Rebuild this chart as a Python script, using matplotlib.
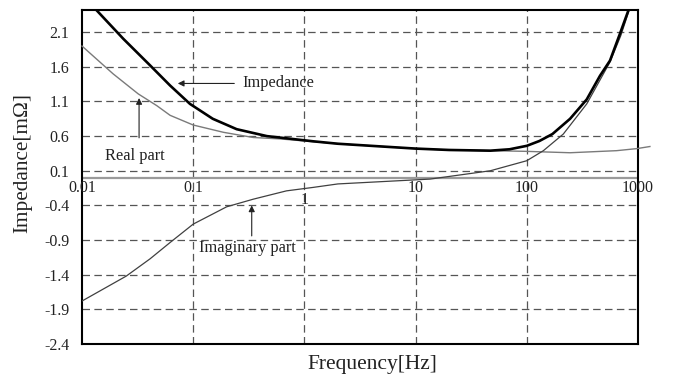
import numpy as np
import matplotlib
matplotlib.use("Agg")
import matplotlib.pyplot as plt

plt.rcParams['font.family'] = ['Liberation Serif', 'DejaVu Serif']

# Impedance magnitude
imp_freq = [0.01, 0.0131, 0.0235, 0.041, 0.062, 0.0935, 0.15, 0.246, 0.46, 1.2, 2, 5, 10, 20,
            47, 70, 100, 130, 170, 245, 346, 455, 560, 689, 818, 900]
imp_val = [2.60, 2.44, 2.005, 1.62, 1.33, 1.065, 0.85, 0.70, 0.60, 0.525, 0.49, 0.45, 0.42,
           0.40, 0.39, 0.41, 0.46, 0.53, 0.63, 0.85, 1.13, 1.47, 1.69, 2.08, 2.41, 2.60]

# Real part
re_freq = [0.01, 0.019, 0.032, 0.047, 0.062, 0.1, 0.187, 0.347, 0.6, 1, 2, 5, 10, 20, 47, 100,
           245, 643, 980, 1280]
re_val = [1.90, 1.50, 1.21, 1.04, 0.90, 0.76, 0.655, 0.58, 0.56, 0.53, 0.49, 0.45, 0.42, 0.40,
          0.39, 0.38, 0.36, 0.39, 0.42, 0.45]

# Imaginary part
im_freq = [0.01, 0.025, 0.041, 0.062, 0.1, 0.2, 0.347, 0.69, 1.2, 2, 13.5, 47, 100, 141,
           213, 346, 560, 700, 830, 900]
im_val = [-1.78, -1.42, -1.17, -0.935, -0.67, -0.42, -0.31, -0.19, -0.14, -0.09, -0.02, 0.10,
          0.245, 0.39, 0.63, 1.065, 1.67, 2.05, 2.41, 2.60]

y_ticks = [2.1, 1.6, 1.1, 0.6, 0.1, -0.4, -0.9, -1.4, -1.9, -2.4]
y_tick_labels = ["2.1", "1.6", "1.1", "0.6", "0.1", "-0.4", "-0.9", "-1.4", "-1.9", "-2.4"]
x_ticks = [0.01, 0.1, 1, 10, 100, 1000]
x_tick_labels = ["0.01", "0.1", "1", "10", "100", "1000"]

fig = plt.figure(figsize=(6.73, 3.78), dpi=100)
ax = fig.add_axes([82 / 673, 1 - 344 / 378, (638 - 82) / 673, (344 - 10) / 378])
ax.set_xscale('log')
ax.set_xlim(0.01, 1000)
ax.set_ylim(-2.4, 2.42)

grid_kw = dict(color='#555555', lw=0.9, dashes=(6, 3.5), zorder=1)
for yv in y_ticks[:-1]:
    ax.axhline(yv, **grid_kw)
for xv in x_ticks[1:-1]:
    ax.axvline(xv, **grid_kw)

# zero line acting as the frequency axis
ax.axhline(0, color='#9a9a9a', lw=1.6, zorder=2)

ax.plot(re_freq, re_val, color='#7a7a7a', lw=1.0, zorder=3, clip_on=False)
ax.plot(im_freq, im_val, color='#404040', lw=0.9, zorder=3)
ax.plot(imp_freq, imp_val, color='black', lw=1.9, zorder=4)

ax.set_yticks(y_ticks)
ax.set_yticklabels(y_tick_labels, fontsize=11.5)
ax.set_xticks([])
ax.xaxis.set_minor_locator(matplotlib.ticker.NullLocator())
ax.tick_params(axis='y', length=0, pad=9, colors='#222222')

# frequency tick labels sit just below the zero line
for xv, lab in zip(x_ticks, x_tick_labels):
    yv = -0.32 if lab == "1" else -0.15
    ax.text(xv, yv, lab, ha='center', va='center', fontsize=11.5, color='#222222',
            clip_on=False, zorder=5)

for side in ['left', 'right', 'top', 'bottom']:
    ax.spines[side].set_linewidth(1.5)
    ax.spines[side].set_color('black')

arrow_kw = dict(arrowstyle='-|>', color='#222222', lw=0.8, mutation_scale=9)
ax.annotate('', xy=(0.0686, 1.36), xytext=(0.248, 1.36), arrowprops=arrow_kw, zorder=5)
ax.text(0.275, 1.36, 'Impedance', ha='left', va='center', fontsize=11.8, color='#222222')

ax.annotate('', xy=(0.0326, 1.19), xytext=(0.0326, 0.535), arrowprops=arrow_kw, zorder=5)
ax.text(0.0296, 0.318, 'Real part', ha='center', va='center', fontsize=11.8, color='#222222')

ax.annotate('', xy=(0.336, -0.36), xytext=(0.336, -0.88), arrowprops=arrow_kw, zorder=5)
ax.text(0.308, -1.02, 'Imaginary part', ha='center', va='center', fontsize=11.8,
        color='#222222')

fig.text(372 / 673, 1 - 364 / 378, 'Frequency[Hz]', ha='center', va='center', fontsize=15.5,
         color='#222222')
fig.text(23 / 673, 1 - 163 / 378, 'Impedance[m\u03a9]', ha='center', va='center',
         rotation=90, fontsize=15.3, color='#222222')

fig.savefig('out.png', dpi=100)
